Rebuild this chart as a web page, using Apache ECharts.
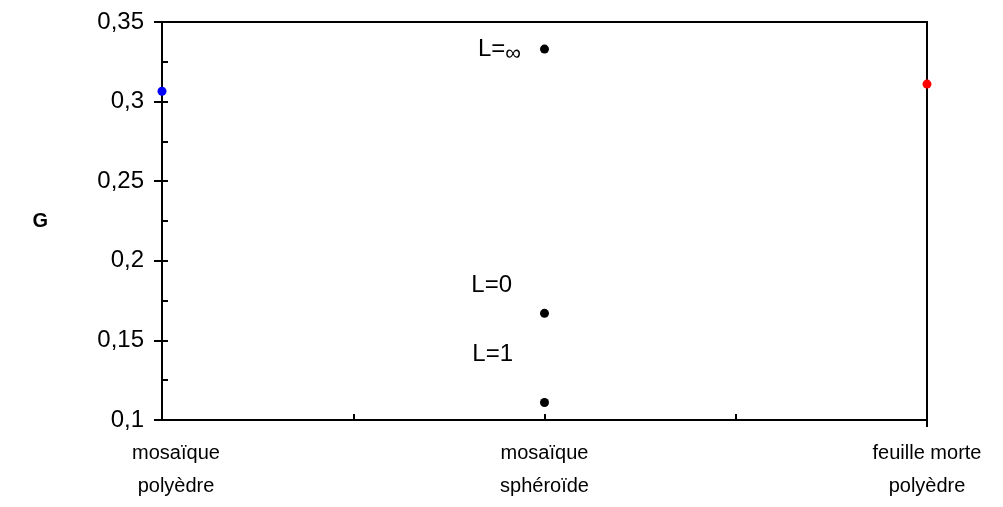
<!DOCTYPE html>
<html>
<head>
<meta charset="utf-8">
<script src="https://cdn.jsdelivr.net/npm/echarts@6/dist/echarts.min.js"></script>
<style>
  html, body { margin: 0; padding: 0; background: #fff; }
  #main { width: 1003px; height: 507px; }
</style>
</head>
<body>
<div id="main"></div>
<script>
const categories = ['mosaïque\npolyèdre', 'mosaïque\nsphéroïde', 'feuille morte\npolyèdre']
const yTicks = {min: 0.1, max: 0.35, interval: 0.05}

// [categorie index, G]
const polyedre = [[0, 0.3065]]
const spheroide = [[1, 0.333], [1, 0.167], [1, 0.111]]
const spheroideLabels = ['L=∞', 'L=0', 'L=1']
const feuilleMorte = [[2, 0.311]]

const font = 'Liberation Sans, Arial, sans-serif'
let myChart = echarts.init(document.getElementById('main'))

const labelStyle = [
    {distance: 19, offset: [0, 0]},
    {distance: 28, offset: [0, -28]},
    {distance: 27, offset: [0, -48]}
]

let option = {
    backgroundColor: '#fff',
    animation: false,
    grid: {
        left: 162, right: 76, top: 22, bottom: 87,
        show: true,
        borderColor: '#000',
        borderWidth: 2
    },
    xAxis: [
        {
            type: 'value',
            min: 0, max: 2, interval: 0.5,
            axisLine: {lineStyle: {color: '#000', width: 2}},
            axisTick: {show: true, inside: true, length: 6, lineStyle: {color: '#000', width: 2}},
            splitLine: {show: false},
            axisLabel: {
                color: '#000',
                fontFamily: font,
                fontSize: 20,
                lineHeight: 33,
                margin: 17,
                formatter: v => {
                    if (!Number.isInteger(v)) return ''
                    // le premier libellé est décalé vers la droite
                    return v === 0 ? categories[v].split('\n').map(s => '{first|' + s + '}').join('\n') : categories[v]
                },
                rich: {
                    first: {fontFamily: font, fontSize: 20, lineHeight: 33, color: '#000', padding: [0, 0, 0, 28]}
                }
            }
        },
        {
            // petit trait sous l'axe, à droite
            type: 'value',
            min: 0, max: 2,
            position: 'bottom',
            axisLine: {show: false},
            axisTick: {show: true, length: 7, customValues: [2], lineStyle: {color: '#000', width: 2}},
            axisLabel: {show: false},
            splitLine: {show: false}
        }
    ],
    yAxis: [
        {
            type: 'value',
            name: 'G',
            nameLocation: 'middle',
            nameRotate: 0,
            nameGap: 114,
            nameTextStyle: {color: '#000', fontFamily: font, fontSize: 20, fontWeight: 'bold'},
            min: yTicks.min, max: yTicks.max, interval: yTicks.interval,
            axisLine: {show: true, lineStyle: {color: '#000', width: 2}},
            axisTick: {show: true, length: 8, lineStyle: {color: '#000', width: 2}},
            splitLine: {show: false},
            axisLabel: {
                color: '#000',
                fontFamily: font,
                fontSize: 24,
                margin: 18,
                formatter: v => String(+v.toFixed(2)).replace('.', ',')
            }
        },
        {
            type: 'value',
            min: yTicks.min, max: yTicks.max, interval: yTicks.interval,
            axisLine: {show: false},
            axisTick: {show: true, inside: true, length: 6, lineStyle: {color: '#000', width: 2}},
            minorTick: {show: true, splitNumber: 2, length: 6, lineStyle: {color: '#000', width: 2}},
            axisLabel: {show: false},
            splitLine: {show: false},
            position: 'left'
        }
    ],
    series: [
        {
            type: 'scatter',
            symbolSize: 9,
            itemStyle: {color: '#0000ff', opacity: 1},
            data: polyedre
        },
        {
            type: 'scatter',
            symbolSize: 9,
            itemStyle: {color: '#000', opacity: 1},
            data: spheroide.map((v, i) => ({
                value: v,
                label: {
                    show: true,
                    position: 'left',
                    distance: labelStyle[i].distance,
                    offset: labelStyle[i].offset,
                    color: '#000',
                    fontFamily: font,
                    fontSize: 24,
                    formatter: i === 0 ? 'L={inf|∞}' : spheroideLabels[i],
                    rich: {
                        inf: {fontFamily: font, fontSize: 22, color: '#000', padding: [10, 0, 0, 0]}
                    }
                }
            }))
        },
        {
            type: 'scatter',
            symbolSize: 9,
            itemStyle: {color: '#ff0000', opacity: 1},
            data: feuilleMorte
        }
    ]
}

myChart.setOption(option)
</script>
</body>
</html>
